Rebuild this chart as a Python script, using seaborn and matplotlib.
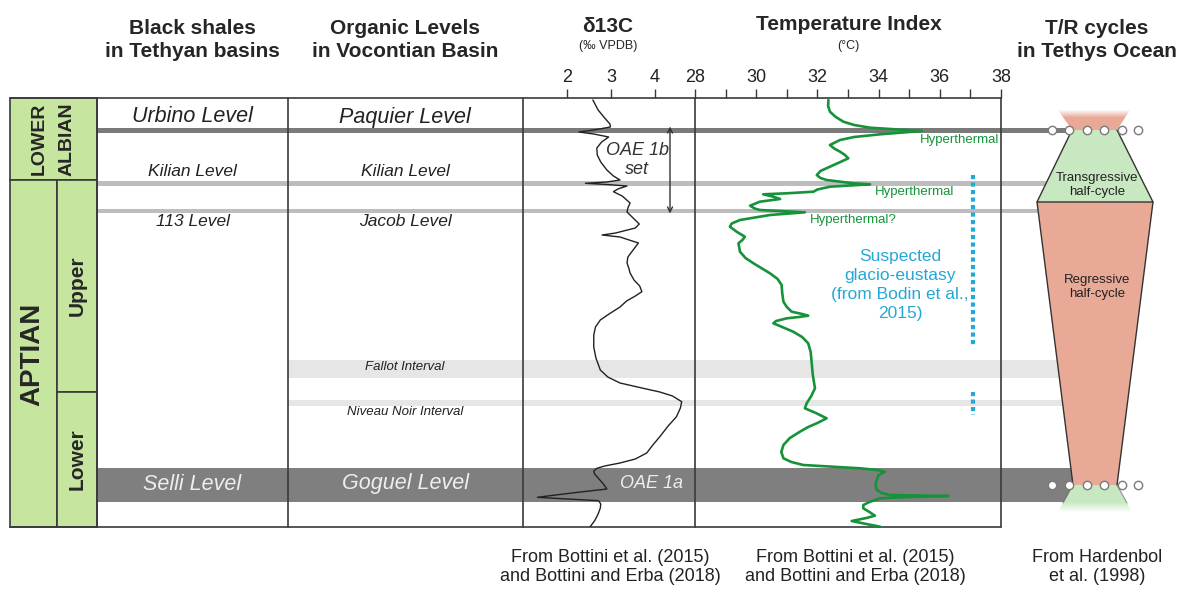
import numpy as np
import matplotlib
matplotlib.use("Agg")
import matplotlib.pyplot as plt
import seaborn as sns
from matplotlib.patches import Polygon, Rectangle
from matplotlib.colors import to_rgb

sns.set_theme(style="white")
plt.rcParams["font.family"] = ["Liberation Sans", "DejaVu Sans"]

# ---------------------------------------------------------------------------
# Curves: stratigraphic depth (chart rows, increasing downward) and values
# ---------------------------------------------------------------------------
d13c_depth = [100, 110, 118, 124, 127, 130, 132, 134, 137, 142, 148, 155, 162,
              170, 176, 180, 182, 183.3, 184.5, 186, 189, 191.7, 196, 203, 208,
              212, 218, 224, 228, 233, 235, 237, 243, 250, 257, 263, 268, 273,
              280, 286, 291.7, 296, 301, 307, 314, 320, 327, 335, 347, 358, 370,
              377, 383, 388, 392, 396, 401.7, 408, 416.7, 426, 436.7, 445, 453,
              459, 463, 466, 468.3, 471, 474, 479, 484, 489, 493, 497.3, 499,
              500.7, 504, 508, 514, 520, 526.7]
d13c_value = [2.58, 2.70, 2.85, 2.97, 2.98, 2.60, 2.26, 2.60, 2.94, 2.78, 2.67,
              2.68, 2.76, 2.90, 3.05, 3.20, 2.90, 2.41, 2.90, 3.36, 3.15, 3.05,
              3.25, 3.43, 3.38, 3.36, 3.50, 3.64, 3.55, 3.10, 2.79, 3.20, 3.62,
              3.50, 3.38, 3.36, 3.40, 3.43, 3.52, 3.65, 3.70, 3.55, 3.35, 3.20,
              2.95, 2.75, 2.64, 2.60, 2.60, 2.65, 2.75, 2.92, 3.20, 3.70, 4.11,
              4.40, 4.61, 4.58, 4.49, 4.30, 4.11, 3.95, 3.81, 3.55, 3.20, 2.85,
              2.67, 2.60, 2.62, 2.72, 2.82, 2.90, 2.10, 1.31, 2.00, 2.71, 2.76,
              2.75, 2.70, 2.63, 2.52]

temp_depth = [100, 106, 111.7, 117, 121.7, 125, 127.7, 131, 134.3, 137, 140, 145,
              148.5, 151.7, 155, 158.3, 162, 166.7, 171, 175, 178, 180, 183.3,
              184.3, 186.7, 189.5, 191.7, 193.3, 194.3, 196.7, 199, 201.7, 205.7,
              208.5, 210, 212.3, 215, 220, 223.5, 226.7, 231.7, 236.7, 240, 243.3,
              251.7, 258, 263.3, 273.3, 279, 285, 293, 301.7, 307, 311.7, 314,
              315.7, 317, 318.3, 321, 323.3, 327, 331.7, 337, 343.3, 352, 361.7,
              375, 388.3, 396, 403.3, 408.3, 413, 418.3, 423, 427, 431.7, 438,
              445, 452, 458.3, 462, 465, 468.3, 470, 471.7, 475, 480, 485, 490,
              493, 495, 496, 497.2, 498.3, 502, 505, 508.3, 512, 515.7, 518, 521,
              524, 526.7]
temp_value = [32.36, 32.35, 32.41, 32.60, 32.85, 33.20, 33.72, 35.41, 34.05,
              33.20, 32.74, 32.41, 32.55, 32.74, 32.90, 33.01, 32.75, 32.41,
              32.10, 31.98, 32.10, 32.30, 33.17, 33.72, 32.41, 32.00, 31.87,
              31.00, 30.23, 30.56, 30.78, 30.12, 29.80, 29.95, 30.12, 31.59,
              30.45, 29.47, 29.20, 29.14, 29.36, 29.63, 29.55, 29.42, 29.47,
              29.65, 29.91, 30.45, 30.70, 30.83, 30.85, 30.89, 31.00, 31.16,
              31.50, 31.70, 31.40, 31.00, 30.65, 30.56, 30.85, 31.21, 31.50,
              31.70, 31.78, 31.81, 31.85, 31.92, 31.80, 31.65, 31.59, 31.95,
              32.30, 32.00, 31.70, 31.43, 31.10, 30.89, 30.82, 30.89, 31.15,
              31.54, 33.39, 33.95, 34.21, 34.00, 33.94, 33.90, 33.94, 34.10,
              34.37, 36.28, 34.80, 34.05, 33.70, 33.50, 33.50, 33.70, 33.88,
              33.60, 33.12, 33.60, 34.05]

d13c_ticks = [2, 3, 4]
temp_major_ticks = [28, 30, 32, 34, 36, 38]
temp_minor_ticks = [29, 31, 33, 35, 37]

# Suspected glacio-eustasy intervals (depth ranges)
glacio_intervals = [(175, 347), (392, 415)]

# ---------------------------------------------------------------------------
W, H = 1186, 592
fig = plt.figure(figsize=(W / 100, H / 100), dpi=100)
ax0 = fig.add_axes([0, 0, 1, 1])
ax0.set_xlim(0, W)
ax0.set_ylim(H, 0)
ax0.axis("off")
ax0.set_autoscale_on(False)

TOP, BASE = 98, 527
LINE = "#3a3a3a"


def px_axes(x0, x1, y0, y1):
    return fig.add_axes([x0 / W, 1 - y1 / H, (x1 - x0) / W, (y1 - y0) / H])


# Marker levels and intervals drawn across the columns
bands = [
    (128.3, 132.8, 97, 1075, "#7a7a7a"),   # Urbino / Paquier
    (181.0, 186.0, 97, 1060, "#bdbdbd"),   # Kilian
    (208.5, 213.0, 97, 1050, "#bdbdbd"),   # 113 / Jacob
    (359.5, 377.5, 288, 1080, "#e6e6e6"),  # Fallot
    (399.5, 405.5, 288, 1080, "#e6e6e6"),  # Niveau Noir
    (468.0, 502.0, 97, 1080, "#7f7f7f"),   # Selli / Goguel
]
for y0, y1, x0, x1, c in bands:
    ax0.add_patch(Rectangle((x0, y0), x1 - x0, y1 - y0, facecolor=c,
                            edgecolor="none", zorder=1))

# Stage / substage boxes
GREEN_STAGE = "#c6e59e"
for (x0, y0, x1, y1) in [(10, TOP, 97, 180), (10, 180, 57, BASE),
                         (57, 180, 97, 392), (57, 392, 97, BASE)]:
    ax0.add_patch(Rectangle((x0, y0), x1 - x0, y1 - y0, facecolor=GREEN_STAGE,
                            edgecolor=LINE, lw=1.2, zorder=3))

# Column frame
ax0.plot([10, 1001], [TOP, TOP], color=LINE, lw=1.2, zorder=3)
ax0.plot([10, 1001], [BASE, BASE], color=LINE, lw=1.2, zorder=3)
for x in [97, 288, 523, 695, 1001]:
    ax0.plot([x, x], [TOP, BASE], color=LINE, lw=1.2, zorder=3)

# Stage labels
ax0.text(39, 139, "LOWER", rotation=90, ha="center", va="center",
         fontsize=14, fontweight="bold", zorder=5)
ax0.text(67.5, 139, "ALBIAN", rotation=90, ha="center", va="center",
         fontsize=14, fontweight="bold", zorder=5)
ax0.text(32, 354, "APTIAN", rotation=90, ha="center", va="center",
         fontsize=20, fontweight="bold", zorder=5)
ax0.text(77, 286, "Upper", rotation=90, ha="center", va="center",
         fontsize=15, fontweight="bold", zorder=5)
ax0.text(77, 459, "Lower", rotation=90, ha="center", va="center",
         fontsize=15, fontweight="bold", zorder=5)

# Headers
hdr = dict(ha="center", va="center", fontsize=15, fontweight="bold",
           linespacing=1.3)
ax0.text(192, 40, "Black shales\nin Tethyan basins", **hdr)
ax0.text(405, 40, "Organic Levels\nin Vocontian Basin", **hdr)
ax0.text(1097, 40, "T/R cycles\nin Tethys Ocean", **hdr)
ax0.text(608, 26, "δ13C", ha="center", va="center", fontsize=15,
         fontweight="bold")
ax0.text(608, 46, "(‰ VPDB)", ha="center", va="center", fontsize=9)
ax0.text(849, 25, "Temperature Index", ha="center", va="center", fontsize=15,
         fontweight="bold")
ax0.text(848, 46, "(°C)", ha="center", va="center", fontsize=9)

# Level names
it = dict(ha="center", va="center", style="italic", zorder=5)
ax0.text(192, 117, "Urbino Level", fontsize=15.5, color="#222222", **it)
ax0.text(192, 172, "Kilian Level", fontsize=12.5, color="#222222", **it)
ax0.text(193, 221, "113 Level", fontsize=12.5, color="#222222", **it)
ax0.text(192, 484, "Selli Level", fontsize=15.5, color="#eeeeee", **it)
ax0.text(405, 117, "Paquier Level", fontsize=15.5, color="#222222", **it)
ax0.text(405, 172, "Kilian Level", fontsize=12.5, color="#222222", **it)
ax0.text(405, 221, "Jacob Level", fontsize=12.5, color="#222222", **it)
ax0.text(405, 367, "Fallot Interval", fontsize=9.5, color="#222222", **it)
ax0.text(405, 412, "Niveau Noir Interval", fontsize=9.5, color="#222222", **it)
ax0.text(406, 484, "Goguel Level", fontsize=15.5, color="#eeeeee", **it)
ax0.text(637, 160, "OAE 1b\nset", fontsize=13, color="#333333",
         linespacing=1.12, **it)
ax0.text(651, 484, "OAE 1a", fontsize=13, color="#eeeeee", **it)
ax0.annotate("", xy=(670, 126.5), xytext=(670, 213.5),
             arrowprops=dict(arrowstyle="<->", color="#333333", lw=1.0,
                             shrinkA=0, shrinkB=0, mutation_scale=9),
             zorder=5)

# ---------------------------------------------------------------------------
# δ13C panel
ax_c = px_axes(523, 695, TOP, BASE)
ax_c.set_zorder(4)
ax_c.patch.set_alpha(0)
sns.lineplot(x=d13c_value, y=d13c_depth, sort=False, estimator=None,
             color="#222222", lw=1.0, ax=ax_c)
ax_c.lines[0].set_solid_joinstyle("round")
ax_c.set_xlim(0.983, 4.914)
ax_c.set_ylim(BASE, TOP)

# Temperature panel
ax_t = px_axes(695, 1001, TOP, BASE)
ax_t.set_zorder(4)
ax_t.patch.set_alpha(0)
GREEN = "#16933a"
sns.lineplot(x=temp_value, y=temp_depth, sort=False, estimator=None,
             color=GREEN, lw=1.9, ax=ax_t)
ax_t.lines[0].set_solid_joinstyle("round")
ax_t.set_xlim(28, 38)
ax_t.set_ylim(BASE, TOP)

for a, major in [(ax_c, d13c_ticks), (ax_t, temp_major_ticks)]:
    for s in a.spines.values():
        s.set_visible(False)
    a.set_xlabel("")
    a.set_ylabel("")
    a.set_yticks([])
    a.xaxis.set_ticks_position("top")
    a.xaxis.set_label_position("top")
    a.set_xticks(major)
    a.set_xticklabels([str(v) for v in major])
    a.tick_params(axis="x", which="both", direction="out", length=6.5,
                  width=1.0, color=LINE, labelsize=13, pad=2,
                  labelcolor="#222222", top=True, bottom=False)
ax_t.set_xticks(temp_minor_ticks, minor=True)

# Hyperthermal labels
hyp = dict(ha="left", va="center", fontsize=9.5, color=GREEN, zorder=6)
ax0.text(920, 140, "Hyperthermal", **hyp)
ax0.text(875, 192.5, "Hyperthermal", **hyp)
ax0.text(810, 220, "Hyperthermal?", **hyp)

# Suspected glacio-eustasy
BLUE = "#25a8d6"
ax0.text(900, 285, "Suspected\nglacio-eustasy\n(from Bodin et al.,\n2015)",
         ha="center", va="center", fontsize=12.5, color=BLUE, linespacing=1.34,
         zorder=6)
for y0, y1 in glacio_intervals:
    ax0.plot([973, 973], [y0, y1], color=BLUE, lw=3.0,
             linestyle=(0, (1.0, 0.8)), solid_capstyle="butt",
             dash_capstyle="butt", zorder=6)

# ---------------------------------------------------------------------------
# T/R cycles
RED = "#e9a997"
GRN = "#c7e8c0"


def faded(verts, color, fade_up):
    poly = Polygon(verts, closed=True, facecolor="none", edgecolor="none",
                   zorder=4)
    ax0.add_patch(poly)
    xs = [v[0] for v in verts]
    ys = [v[1] for v in verts]
    n = 64
    a = np.clip(np.linspace(0.05, 2.6, n), 0, 1)
    if not fade_up:
        a = a[::-1]
    img = np.zeros((n, 2, 4))
    img[..., :3] = to_rgb(color)
    img[:, :, 3] = a[:, None]
    im = ax0.imshow(img, extent=(min(xs), max(xs), max(ys), min(ys)),
                    aspect="auto", interpolation="bilinear", origin="upper",
                    zorder=4)
    im.set_clip_path(poly)


faded([(1058, 110), (1130, 110), (1117, 130), (1072, 130)], RED, True)
faded([(1073, 485), (1117, 485), (1132, 512), (1058, 512)], GRN, False)
ax0.add_patch(Polygon([(1072, 130), (1117, 130), (1153, 202), (1037, 202)],
                      closed=True, facecolor=GRN, edgecolor="none", zorder=4))
ax0.add_patch(Polygon([(1037, 202), (1153, 202), (1117, 485), (1073, 485)],
                      closed=True, facecolor=RED, edgecolor="none", zorder=4))
edge = dict(color="#333333", lw=1.0, zorder=5)
ax0.plot([1072, 1037, 1153, 1117], [130, 202, 202, 130], **edge)
ax0.plot([1037, 1073], [202, 485], **edge)
ax0.plot([1153, 1117], [202, 485], **edge)
ax0.plot([1073, 1063], [485, 503], color="#555555", lw=0.8, alpha=0.6, zorder=5)
ax0.plot([1117, 1127], [485, 503], color="#555555", lw=0.8, alpha=0.6, zorder=5)

circle_x = [1052, 1069, 1087, 1104, 1122, 1138]
for cy in (130, 485):
    ax0.scatter(circle_x, [cy] * len(circle_x), s=36, facecolor="white",
                edgecolor="#7a7a7a", linewidth=1.0, zorder=7)

ax0.text(1097, 185, "Transgressive\nhalf-cycle", ha="center", va="center",
         fontsize=9.5, color="#222222", linespacing=1.15, zorder=6)
ax0.text(1097, 287, "Regressive\nhalf-cycle", ha="center", va="center",
         fontsize=9.5, color="#222222", linespacing=1.15, zorder=6)

# Sources
src = dict(ha="center", va="center", fontsize=13, color="#222222",
           linespacing=1.22)
ax0.text(610, 567, "From Bottini et al. (2015)\nand Bottini and Erba (2018)", **src)
ax0.text(855, 567, "From Bottini et al. (2015)\nand Bottini and Erba (2018)", **src)
ax0.text(1097, 567, "From Hardenbol\net al. (1998)", **src)

ax0.set_xlim(0, W)
ax0.set_ylim(H, 0)
fig.savefig("out.png", dpi=100)
